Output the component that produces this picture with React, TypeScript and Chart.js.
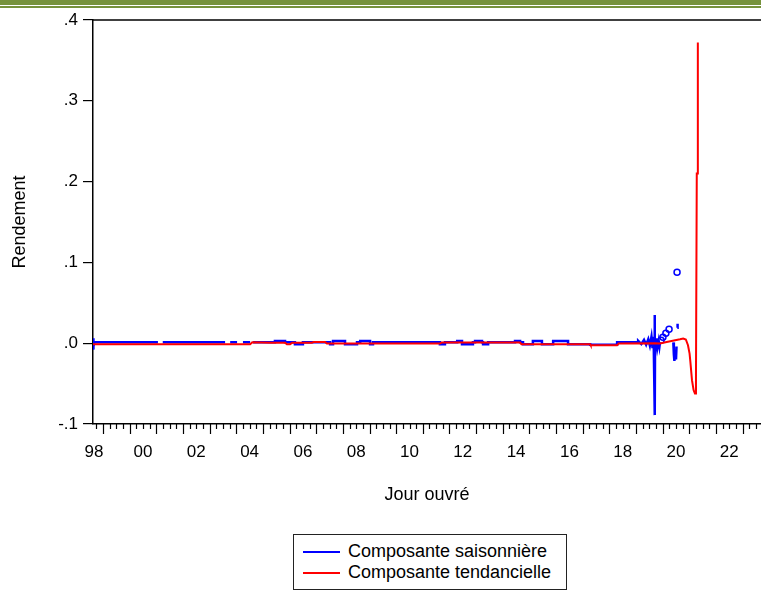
import React, { useEffect, useRef } from "react";
import { Chart, registerables } from "chart.js";

Chart.register(...registerables);

// ---- axis ranges (decimal years / returns) ----
const X_MIN = 1998.623;
const X_MAX = 2023.69;
const Y_MIN = -0.1;
const Y_MAX = 0.4;

// ---- tick labels ----
const yTickValues = [-0.1, 0, 0.1, 0.2, 0.3, 0.4];
const xLabelYears = [1998, 2000, 2002, 2004, 2006, 2008, 2010, 2012, 2014, 2016, 2018, 2020, 2022];

// ---- Composante saisonnière (blue) ----
const seasonYears = [
  1998.623, 1998.627, 1998.632, 1998.637, 1998.645, 1998.655, 1998.67,
  2001.06, 2001.07, 2001.24, 2003.58, 2003.59, 2003.77, 2004.03, 2004.04, 2004.25,
  2004.52, 2004.53, 2004.63,
  2005.45, 2005.45, 2005.83, 2005.83,
  2006.2, 2006.2, 2006.5, 2006.5,
  2007.52, 2007.52, 2007.63, 2007.63, 2008.08, 2008.08, 2008.53, 2008.53,
  2008.65, 2008.65, 2009.02, 2009.02, 2009.13, 2009.13,
  2011.64, 2011.64, 2011.83, 2011.83,
  2012.29, 2012.29, 2012.47, 2012.47, 2012.88, 2012.88,
  2012.96, 2012.96, 2013.22, 2013.22, 2013.26, 2013.26, 2013.45, 2013.45,
  2014.46, 2014.46, 2014.65, 2014.65, 2014.76, 2014.76,
  2015.13, 2015.13, 2015.47, 2015.47, 2015.89, 2015.89, 2016.45, 2016.45,
  2017.28, 2017.28, 2018.29, 2018.29,
  2019.08, 2019.08, 2019.2, 2019.3, 2019.38, 2019.46, 2019.52, 2019.58, 2019.62, 2019.66,
  2019.69, 2019.695, 2019.7, 2019.705, 2019.71, 2019.715, 2019.73, 2019.76, 2019.8,
  2019.85, 2019.88, 2019.9, 2019.91,
  2020.4, 2020.42, 2020.44, 2020.47, 2020.5, 2020.52, 2020.53,
  2020.55, 2020.56,
];
const seasonValues = [
  0.006, -0.008, 0.005, -0.007, 0.004, -0.004, 0.0012,
  0.0012, null, 0.0012, 0.0012, null, 0.0012, 0.0012, null, 0.0012,
  0.0012, null, 0.0012,
  0.0012, 0.0028, 0.0028, 0.0012,
  0.0012, -0.0012, -0.0012, 0.0012,
  0.0012, -0.0012, -0.0012, 0.0028, 0.0028, -0.0012, -0.0012, 0.0012,
  0.0012, 0.0028, 0.0028, -0.0012, -0.0012, 0.0012,
  0.0012, -0.0012, -0.0012, 0.0012,
  0.0012, 0.0028, 0.0028, -0.0012, -0.0012, 0.0012,
  0.0012, 0.0028, 0.0028, 0.0012, 0.0012, -0.0012, -0.0012, 0.0012,
  0.0012, 0.0028, 0.0028, 0.0012, 0.0012, -0.0012,
  -0.0012, 0.0028, 0.0028, -0.0012, -0.0012, 0.0028, 0.0028, -0.0012,
  -0.0012, -0.0018, -0.0018, 0.0012,
  0.0012, 0.003, -0.001, 0.004, -0.002, 0.005, -0.003, 0.008, -0.006, 0.008,
  -0.058, 0.002, -0.045, 0.035, -0.089, 0.004, -0.01, 0.006, -0.006,
  0.003, -0.004, 0.001, null,
  0.001, -0.014, -0.022, -0.01, -0.02, -0.004, null,
  0.019, 0.024,
];

// isolated observations of the seasonal component (drawn as small circles)
const seasonIsolatedYears = [2019.94, 2020.01, 2020.12, 2020.24, 2020.54];
const seasonIsolatedValues = [0.0037, 0.0074, 0.0123, 0.0173, 0.0877];

// ---- Composante tendancielle (red) ----
const trendYears = [
  1998.623, 2004.52, 2004.6, 2005.3, 2005.83, 2005.9, 2006.02, 2006.1, 2006.84, 2006.9,
  2007.33, 2007.4, 2011.64, 2011.7, 2014.65, 2014.7, 2017.28, 2017.3, 2018.29, 2018.35,
  2019.71, 2019.9, 2020.15, 2020.65, 2020.77, 2020.87, 2020.95, 2021.01, 2021.04, 2021.1,
  2021.16, 2021.21, 2021.23, 2021.25, 2021.28, 2021.31, 2021.32,
];
const trendValues = [
  -0.0012, -0.0012, 0.0012, 0.0006, 0.0006, -0.0012, -0.0012, 0.0006, 0.0006, 0.0015,
  0.0015, -0.0004, -0.0004, 0.0008, 0.0008, -0.0012, -0.0012, -0.0025, -0.0025, -0.0004,
  0.0, -0.0004, 0.0016, 0.0049, 0.0058, 0.0046, -0.0025, -0.0128, -0.0231, -0.0457,
  -0.058, -0.0621, -0.0621, -0.04, 0.21, 0.21, 0.372,
];

const FONT = "'Liberation Sans', Arial, sans-serif";
const BLUE = "#0000ff";
const RED = "#ff0000";

function toPoints(xs: number[], ys: (number | null)[]) {
  return xs.map((x, i) => ({ x, y: ys[i] }));
}

function fmtY(v: number) {
  if (Math.abs(v) < 1e-9) return ".0";
  const d = Math.round(Math.abs(v) * 10);
  return (v < 0 ? "-" : "") + "." + d;
}

const framePlugin = {
  id: "eviewsFrame",
  afterDraw(chart: any) {
    const { ctx, chartArea } = chart;
    const xs = chart.scales.x;
    ctx.save();
    ctx.strokeStyle = "#000";
    ctx.lineWidth = 1.5;
    // top frame line
    ctx.beginPath();
    ctx.moveTo(chartArea.left, chartArea.top);
    ctx.lineTo(chart.width, chartArea.top);
    ctx.stroke();
    // quarterly tick marks, longer at each year start
    ctx.lineWidth = 1.2;
    const start = Math.ceil(xs.min * 4) / 4;
    for (let q = start; q <= xs.max; q += 0.25) {
      const px = Math.round(xs.getPixelForValue(q)) + 0.5;
      const isYear = Math.abs(q - Math.round(q)) < 1e-6;
      const len = isYear ? 10 : 5;
      ctx.beginPath();
      ctx.moveTo(px, chartArea.bottom);
      ctx.lineTo(px, chartArea.bottom + len);
      ctx.stroke();
    }
    ctx.restore();
  },
};

export default function App() {
  const ref = useRef<HTMLCanvasElement | null>(null);

  useEffect(() => {
    if (!ref.current) return;
    const labelPos = xLabelYears.map((y) => Math.max(y + 0.5, X_MIN + 0.04));
    const chart = new Chart(ref.current, {
      type: "line",
      data: {
        datasets: [
          {
            label: "Composante tendancielle",
            data: toPoints(trendYears, trendValues),
            borderColor: RED,
            borderWidth: 2,
            pointRadius: 0,
            tension: 0,
            spanGaps: false,
            order: 0,
          },
          {
            label: "Composante saisonnière",
            data: toPoints(seasonYears, seasonValues),
            borderColor: BLUE,
            borderWidth: 2.5,
            pointRadius: 0,
            tension: 0,
            spanGaps: false,
            order: 1,
          },
          {
            label: "Composante saisonnière (isolée)",
            data: toPoints(seasonIsolatedYears, seasonIsolatedValues),
            borderColor: BLUE,
            backgroundColor: "rgba(255,255,255,0)",
            borderWidth: 1.5,
            showLine: false,
            pointRadius: 3,
            pointBorderWidth: 1.5,
            pointStyle: "circle",
            order: 2,
          },
        ],
      },
      options: {
        animation: false,
        responsive: false,
        devicePixelRatio: 1,
        layout: { autoPadding: false, padding: { top: 20, left: 0, right: 0, bottom: 0 } },
        plugins: {
          legend: { display: false },
          tooltip: { enabled: false },
        },
        scales: {
          x: {
            type: "linear",
            min: X_MIN,
            max: X_MAX,
            afterFit: (s: any) => {
              s.height = 168;
              s.paddingLeft = 0;
              s.paddingRight = 0;
            },
            afterBuildTicks: (s: any) => {
              s.ticks = labelPos.map((v) => ({ value: v }));
            },
            grid: { display: false },
            border: { display: true, color: "#000", width: 1.5 },
            ticks: {
              autoSkip: false,
              maxRotation: 0,
              padding: 10,
              color: "#000",
              font: { family: FONT, size: 17 },
              callback: (_v: any, i: number) => String(xLabelYears[i] % 100).padStart(2, "0"),
            },
            title: {
              display: true,
              text: "Jour ouvré",
              color: "#000",
              font: { family: FONT, size: 18 },
              padding: { top: 0, bottom: 86 },
            },
          },
          y: {
            type: "linear",
            min: Y_MIN,
            max: Y_MAX,
            afterFit: (s: any) => {
              s.width = 93;
              s.paddingTop = 0;
              s.paddingBottom = 0;
            },
            afterBuildTicks: (s: any) => {
              s.ticks = yTickValues.map((v) => ({ value: v }));
            },
            grid: {
              display: true,
              drawOnChartArea: false,
              drawTicks: true,
              tickLength: 10,
              color: "#000",
              tickColor: "#000",
              lineWidth: 1.2,
            },
            border: { display: true, color: "#000", width: 1.5 },
            ticks: {
              padding: 5,
              color: "#000",
              font: { family: FONT, size: 17 },
              callback: (v: any) => fmtY(Number(v)),
            },
            title: {
              display: true,
              text: "Rendement",
              color: "#000",
              font: { family: FONT, size: 18 },
              padding: { top: 9, bottom: 0 },
            },
          },
        },
      },
      plugins: [framePlugin],
    } as any);
    return () => chart.destroy();
  }, []);

  const legendRow = (color: string, text: string) => (
    <div style={{ display: "flex", alignItems: "center", height: 21 }}>
      <div style={{ width: 37, height: 2, background: color, marginLeft: 9, marginRight: 8 }} />
      <span style={{ fontFamily: FONT, fontSize: 18, color: "#000", whiteSpace: "nowrap" }}>{text}</span>
    </div>
  );

  return (
    <div style={{ position: "fixed", left: 0, top: 0, width: 761, height: 592, background: "#fff", overflow: "hidden" }}>
      <div style={{ position: "absolute", left: 0, top: 0, width: 761, height: 5, background: "#76923c" }} />
      <div style={{ position: "absolute", left: 0, top: 6, width: 761, height: 1.5, background: "#76923c" }} />
      <canvas ref={ref} width={761} height={592} style={{ position: "absolute", left: 0, top: 0, display: "block", width: 761, height: 592 }} />
      <div
        style={{
          position: "absolute",
          left: 293,
          top: 534,
          width: 274,
          height: 56,
          boxSizing: "border-box",
          border: "1px solid #222",
          background: "#fff",
          paddingTop: 6,
        }}
      >
        {legendRow(BLUE, "Composante saisonnière")}
        {legendRow(RED, "Composante tendancielle")}
      </div>
    </div>
  );
}
